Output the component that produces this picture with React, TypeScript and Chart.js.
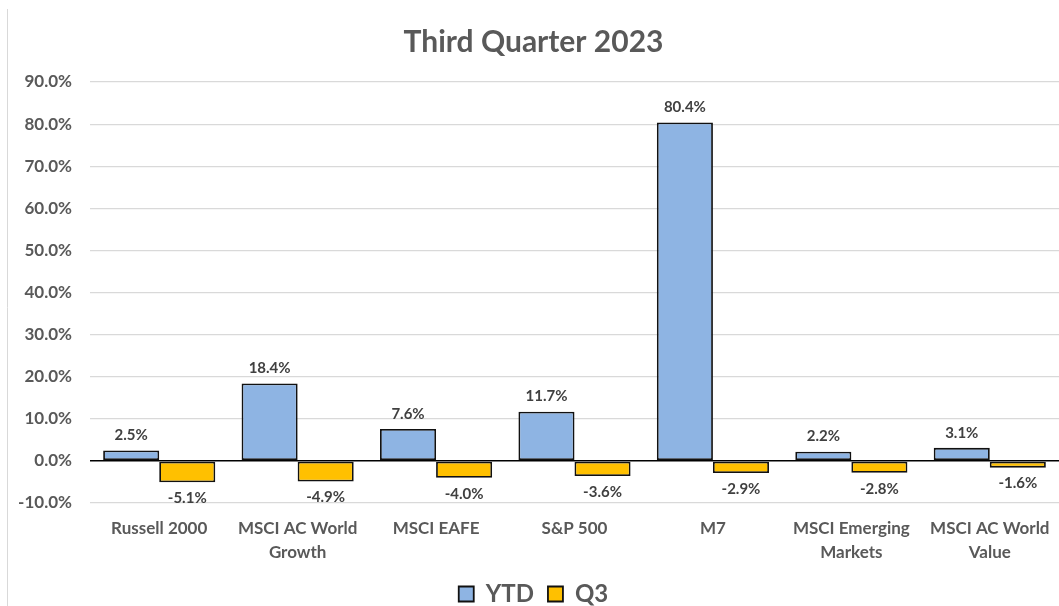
import React, { useEffect, useRef } from 'react';
import { Chart, registerables } from 'chart.js';
Chart.register(...registerables);

const categories: string[][] = [
  ['Russell 2000'],
  ['MSCI AC World', 'Growth'],
  ['MSCI EAFE'],
  ['S&P 500'],
  ['M7'],
  ['MSCI Emerging', 'Markets'],
  ['MSCI AC World', 'Value'],
];
const ytdValues = [2.5, 18.4, 7.6, 11.7, 80.4, 2.2, 3.1];
const q3Values = [-5.1, -4.9, -4.0, -3.6, -2.9, -2.8, -1.6];
const yMin = -10;
const yMax = 90;
const yStep = 10;

const FONT = 'Lato';

const valueLabels = {
  id: 'valueLabels',
  afterDatasetsDraw(chart: any) {
    const ctx = chart.ctx;
    ctx.save();
    ctx.font = `bold 15px ${FONT}`;
    ctx.fillStyle = '#404040';
    ctx.textAlign = 'center';
    ctx.textBaseline = 'middle';
    chart.data.datasets.forEach((ds: any, i: number) => {
      const meta = chart.getDatasetMeta(i);
      meta.data.forEach((bar: any, j: number) => {
        const v = ds.data[j] as number;
        const y = v >= 0 ? bar.y - 15 : bar.y + 16;
        ctx.fillText(v.toFixed(1) + '%', bar.x, y);
      });
    });
    ctx.restore();
  },
};

const frameLine = {
  id: 'frameLine',
  beforeDraw(chart: any) {
    const ctx = chart.ctx;
    ctx.save();
    ctx.strokeStyle = '#d9d9d9';
    ctx.lineWidth = 1;
    ctx.beginPath();
    ctx.moveTo(7.5, 9);
    ctx.lineTo(7.5, 606);
    ctx.stroke();
    ctx.restore();
  },
};

export default function App() {
  const ref = useRef<HTMLCanvasElement>(null);
  useEffect(() => {
    document.body.style.margin = '0';
    const chart = new Chart(ref.current as HTMLCanvasElement, {
      type: 'bar',
      data: {
        labels: categories as any,
        datasets: [
          {
            label: 'YTD',
            data: ytdValues,
            backgroundColor: '#8EB4E3',
            borderColor: '#111111',
            borderWidth: 1.8,
            borderSkipped: false,
            categoryPercentage: 0.81,
            barPercentage: 1,
          },
          {
            label: 'Q3',
            data: q3Values,
            backgroundColor: '#FFC000',
            borderColor: '#111111',
            borderWidth: 1.8,
            borderSkipped: false,
            categoryPercentage: 0.81,
            barPercentage: 1,
          },
        ],
      },
      options: {
        responsive: false,
        animation: false,
        layout: { padding: { left: 8, right: 0, top: 0, bottom: 0 } },
        plugins: {
          title: {
            display: true,
            text: 'Third Quarter 2023',
            color: '#595959',
            font: { family: FONT, size: 30, weight: 'bold', lineHeight: 1.2 },
            padding: { top: 24, bottom: 22 },
          },
          legend: {
            position: 'bottom',
            maxHeight: 38,
            labels: {
              color: '#595959',
              font: { family: FONT, size: 24, weight: 'bold' },
              boxWidth: 15,
              boxHeight: 15,
              padding: 14,
            },
          },
          tooltip: { enabled: false },
        },
        scales: {
          x: {
            grid: { display: false },
            border: { display: false },
            afterFit: (s: any) => {
              s.height = 65;
            },
            ticks: {
              color: '#595959',
              font: { family: FONT, size: 17, weight: 'bold', lineHeight: 1.41 },
              padding: 6,
              maxRotation: 0,
              autoSkip: false,
            },
          },
          y: {
            min: yMin,
            max: yMax,
            afterFit: (s: any) => {
              s.width = 82;
            },
            border: { display: false },
            grid: {
              drawTicks: false,
              color: (c: any) => (c.tick && c.tick.value === 0 ? '#000000' : '#d9d9d9'),
              lineWidth: (c: any) => (c.tick && c.tick.value === 0 ? 1.5 : 1.2),
            },
            ticks: {
              stepSize: yStep,
              color: '#595959',
              font: { family: FONT, size: 17, weight: 'bold' },
              padding: 18,
              callback: (v: any) => Number(v).toFixed(1) + '%',
            },
          },
        },
      },
      plugins: [valueLabels, frameLine],
    });
    return () => chart.destroy();
  }, []);
  return (
    <div style={{ width: 1059, height: 606 }}>
      <canvas ref={ref} width={1059} height={606} />
    </div>
  );
}
